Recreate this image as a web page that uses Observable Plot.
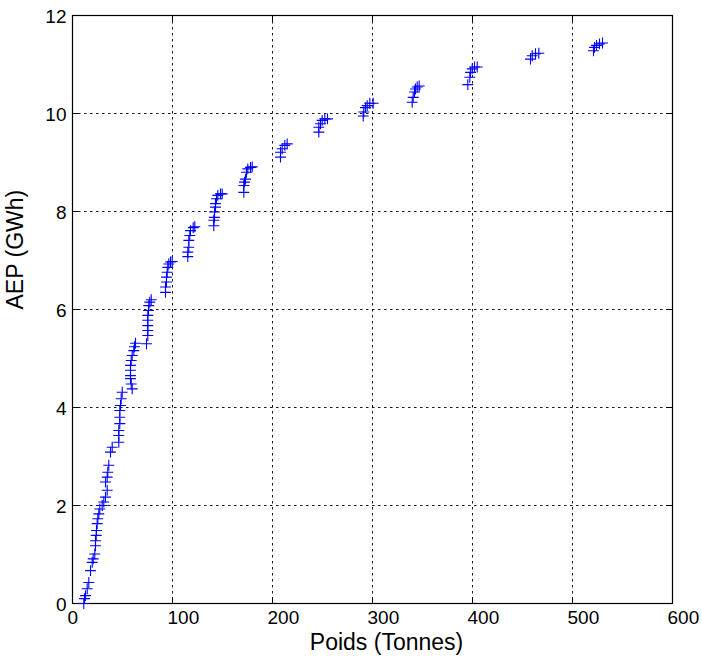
<!DOCTYPE html>
<html>
<head>
<meta charset="utf-8">
<script src="https://cdn.jsdelivr.net/npm/d3@7"></script>
<script src="https://cdn.jsdelivr.net/npm/@observablehq/plot@0.6"></script>
<style>
  html, body { margin: 0; padding: 0; background: white; }
</style>
</head>
<body>
<div id="chart"></div>
<script>
// Poids (Tonnes)
const weight = [
  11.3, 12, 13, 14.7, 16.3, 18, 19.7, 20.7, 22.3, 23, 23, 23.7, 24, 24.7, 25.3, 26.3, 27.3,
  29.7, 31.3, 33, 34.7, 33, 34.7, 35.3, 36.3, 38, 39.7,
  46.3, 46.3, 46.3, 47.3, 47.3, 47.3, 48, 48.7, 49.7,
  59.7, 58.7, 58, 58, 58, 58, 58.7, 59.7, 61.3, 62, 63,
  74, 75.3, 75.3, 75.3, 75.3, 75.3, 76, 76.3, 77.3, 78.7,
  93, 93, 94, 94, 94.7, 95.3, 96.3, 98, 99.7,
  115.3, 115.3, 116.3, 116.3, 117.3, 118, 120.7, 122.3,
  141.3, 141.3, 142, 142, 143, 143, 144, 145.3, 148, 149.7,
  171.3, 171.3, 172, 173, 174, 175.3, 178, 179.7,
  208, 208, 209.7, 212.3, 214.7,
  246.3, 246.3, 248, 249.7, 252.3, 255,
  290.7, 291.3, 293, 294.7, 297.3, 300.7,
  339.7, 340.7, 342, 343, 344.7, 346.7,
  395.3, 397.3, 398, 399.7, 402, 404.7,
  458, 459.7, 463, 466.3,
  521, 522, 524, 527, 530
];
// AEP (GWh)
const aep = [
  0.0, 0.10, 0.16, 0.30, 0.43, 0.67, 0.84, 0.91, 1.01, 1.18, 1.28, 1.39, 1.49, 1.63, 1.73, 1.83, 1.93,
  2.0, 2.07, 2.17, 2.31, 2.48, 2.58, 2.68, 2.82, 3.09, 3.19,
  3.29, 3.43, 3.53, 3.67, 3.80, 3.94, 4.04, 4.18, 4.31,
  4.38, 4.48, 4.59, 4.65, 4.76, 4.86, 4.96, 5.06, 5.16, 5.24, 5.31,
  5.30, 5.47, 5.57, 5.67, 5.78, 5.88, 5.98, 6.08, 6.15, 6.20,
  6.35, 6.46, 6.56, 6.66, 6.76, 6.86, 6.93, 6.97, 6.98,
  7.08, 7.17, 7.27, 7.41, 7.51, 7.61, 7.67, 7.69,
  7.71, 7.82, 7.88, 7.99, 8.09, 8.16, 8.26, 8.33, 8.36, 8.36,
  8.39, 8.53, 8.60, 8.66, 8.80, 8.87, 8.90, 8.91,
  9.11, 9.21, 9.28, 9.35, 9.38,
  9.62, 9.72, 9.79, 9.86, 9.89, 9.89,
  9.95, 10.03, 10.12, 10.16, 10.21, 10.21,
  10.23, 10.33, 10.44, 10.50, 10.54, 10.56,
  10.59, 10.74, 10.84, 10.91, 10.95, 10.95,
  11.11, 11.18, 11.22, 11.23,
  11.28, 11.35, 11.39, 11.42, 11.44
];
const xTicks = [0, 100, 200, 300, 400, 500, 600];
const yTicks = [0, 2, 4, 6, 8, 10, 12];
const xLabel = "Poids (Tonnes)";
const yLabel = "AEP (GWh)";

const data = weight.map((w, i) => ({weight: w, aep: aep[i]}));

const W = 702, H = 660;
const mL = 72, mR = 30, mT = 15, mB = 57;
const innerW = W - mL - mR, innerH = H - mT - mB, tickLen = 6;
const gridStyle = {stroke: "black", strokeOpacity: 0.9, strokeWidth: 1, strokeDasharray: "2.5,3.5"};

const chart = Plot.plot({
  width: W, height: H,
  marginLeft: mL, marginRight: mR, marginTop: mT, marginBottom: mB,
  style: {fontFamily: "'Liberation Sans', Arial, Helvetica, sans-serif", background: "white", color: "black"},
  x: {domain: [0, 600]},
  y: {domain: [0, 12]},
  marks: [
    Plot.gridX(xTicks.slice(1, -1), gridStyle),
    Plot.gridY(yTicks.slice(1, -1), gridStyle),
    Plot.tickX(xTicks, {x: d => d, insetTop: innerH - tickLen, stroke: "black"}),
    Plot.tickX(xTicks, {x: d => d, insetBottom: innerH - tickLen, stroke: "black"}),
    Plot.tickY(yTicks, {y: d => d, insetRight: innerW - tickLen, stroke: "black"}),
    Plot.tickY(yTicks, {y: d => d, insetLeft: innerW - tickLen, stroke: "black"}),
    Plot.axisX({ticks: xTicks, anchor: "bottom", tickSize: 0, tickPadding: 7, fontSize: 19, textAnchor: "start", dx: -5, label: null}),
    Plot.axisY({ticks: yTicks, anchor: "left", tickSize: 0, tickPadding: 6, fontSize: 19, dy: 1, label: null}),
    Plot.frame({stroke: "black", strokeWidth: 1.2}),
    Plot.dot(data, {x: "weight", y: "aep", symbol: "plus", r: 3.6, stroke: "#0000ff", strokeWidth: 1.1}),
    Plot.text([xLabel], {text: d => d, frameAnchor: "bottom", dx: 14, dy: 46, fontSize: 23}),
    Plot.text([yLabel], {text: d => d, frameAnchor: "left", dx: -57, rotate: -90, fontSize: 23})
  ]
});
document.getElementById("chart").appendChild(chart);
</script>
</body>
</html>
